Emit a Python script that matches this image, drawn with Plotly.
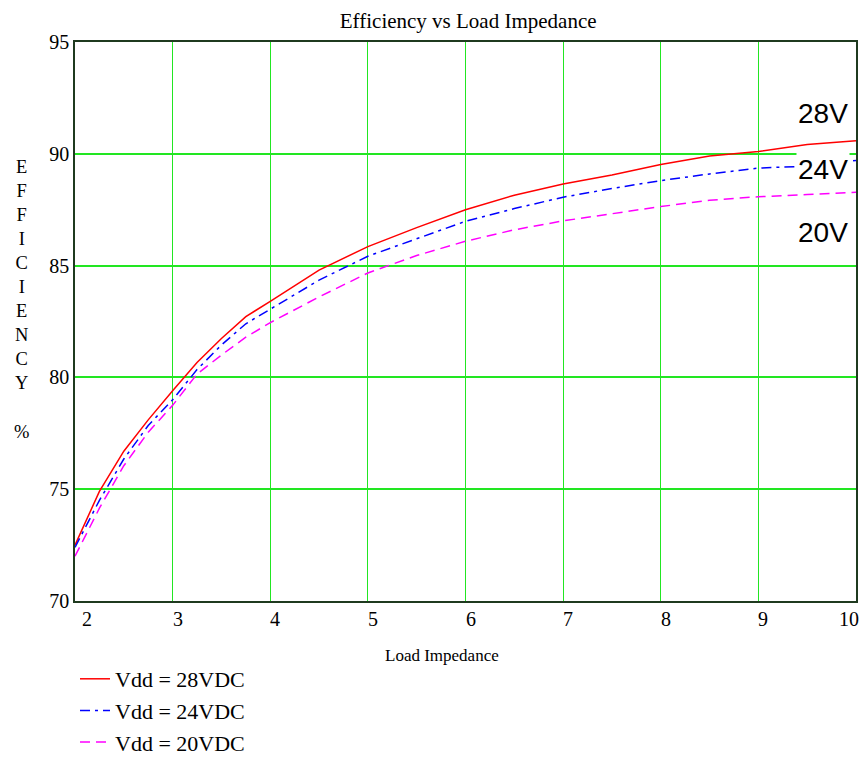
import plotly.graph_objects as go

# ---- data ----
load_impedance = [2, 2.25, 2.5, 2.75, 3, 3.25, 3.5, 3.75, 4, 4.5, 5, 5.5, 6,
                  6.5, 7, 7.5, 8, 8.5, 9, 9.5, 10]
eff_28v = [72.5, 74.9, 76.7, 78.1, 79.4, 80.67, 81.74, 82.72, 83.4, 84.8, 85.85,
           86.7, 87.5, 88.15, 88.65, 89.05, 89.52, 89.9, 90.1, 90.42, 90.58]
eff_24v = [72.4, 74.5, 76.35, 77.85, 79.0, 80.35, 81.45, 82.4, 83.05, 84.35, 85.42,
           86.2, 86.98, 87.55, 88.06, 88.45, 88.8, 89.1, 89.36, 89.45, 89.7]
eff_20v = [72.0, 74.15, 76.05, 77.55, 78.75, 80.15, 81.0, 81.8, 82.45, 83.6, 84.67,
           85.45, 86.09, 86.6, 87.0, 87.32, 87.64, 87.92, 88.08, 88.18, 88.28]

series_names = ["Vdd = 28VDC", "Vdd = 24VDC", "Vdd = 20VDC"]
end_labels = ["28V", "24V", "20V"]
x_ticks = [2, 3, 4, 5, 6, 7, 8, 9, 10]
y_ticks = [70, 75, 80, 85, 90, 95]

SERIF = "Liberation Serif"
SANS = "Liberation Sans"

fig = go.Figure()
fig.add_trace(go.Scatter(x=load_impedance, y=eff_28v, mode="lines", name=series_names[0],
                         line=dict(color="#ff0000", width=1.5)))
fig.add_trace(go.Scatter(x=load_impedance, y=eff_24v, mode="lines", name=series_names[1],
                         line=dict(color="#0000ff", width=1.5, dash="10px,5px,3px,5px")))
fig.add_trace(go.Scatter(x=load_impedance, y=eff_20v, mode="lines", name=series_names[2],
                         line=dict(color="#ff00ff", width=1.5, dash="10px,6px")))

frame = "#1f3a1f"
grid = "#22e622"

fig.update_layout(
    width=867, height=761,
    margin=dict(l=75, r=9, t=42, b=160),
    paper_bgcolor="white", plot_bgcolor="white",
    font=dict(family=SERIF, color="#000000"),
    title=dict(text="Efficiency vs Load Impedance", x=0.54, xanchor="center",
               y=1 - 21 / 761, yanchor="middle", yref="container",
               font=dict(family=SERIF, size=21, color="#000")),
    showlegend=True,
    legend=dict(x=0.0, xanchor="left", xref="paper",
                y=1 - 658 / 761, yanchor="top", yref="container",
                font=dict(family=SERIF, size=22, color="#000"),
                bgcolor="rgba(0,0,0,0)", borderwidth=0, tracegroupgap=0),
    xaxis=dict(range=[2, 10], tickvals=x_ticks, showticklabels=False,
               showgrid=True, gridcolor=grid, gridwidth=1, zeroline=False,
               showline=True, linecolor=frame, linewidth=1.5, mirror=True, ticks=""),
    yaxis=dict(range=[70, 95], tickvals=y_ticks, showgrid=True, gridcolor=grid,
               gridwidth=1.5, zeroline=False, showline=True, linecolor=frame,
               linewidth=1.5, mirror=True, ticks="",
               tickfont=dict(family=SERIF, size=20, color="#000")),
)

annotations = []
# x tick labels
for i, t in enumerate(x_ticks):
    if i == 0:
        anchor, shift = "left", 5
    elif i == len(x_ticks) - 1:
        anchor, shift = "right", 5
    else:
        anchor, shift = "center", 5
    annotations.append(dict(x=t, y=0, xref="x", yref="paper", text=str(t),
                            showarrow=False, yanchor="top", yshift=-5,
                            xanchor=anchor, xshift=shift,
                            font=dict(family=SERIF, size=20, color="#000")))
# axis titles
annotations.append(dict(x=0.47, y=-0.097, xref="paper", yref="paper",
                        text="Load Impedance", showarrow=False,
                        yanchor="middle", xanchor="center",
                        font=dict(family=SERIF, size=17, color="#000")))
annotations.append(dict(x=-0.068, y=0.539, xref="paper", yref="paper",
                        text="E<br>F<br>F<br>I<br>C<br>I<br>E<br>N<br>C<br>Y<br><br>%",
                        showarrow=False, yanchor="middle", xanchor="center",
                        font=dict(family=SERIF, size=18.5, color="#000")))
# end labels
label_y = [91.82, 89.28, 86.46]
for txt, yv in zip(end_labels, label_y):
    annotations.append(dict(x=9.66, y=yv, xref="x", yref="y", text=txt,
                            showarrow=False, xanchor="center", yanchor="middle",
                            bgcolor="white",
                            font=dict(family=SANS, size=28, color="#000")))
fig.update_layout(annotations=annotations)

fig.write_html("out.html", config={"displayModeBar": False},
               post_script="document.body.style.margin='0px';")
